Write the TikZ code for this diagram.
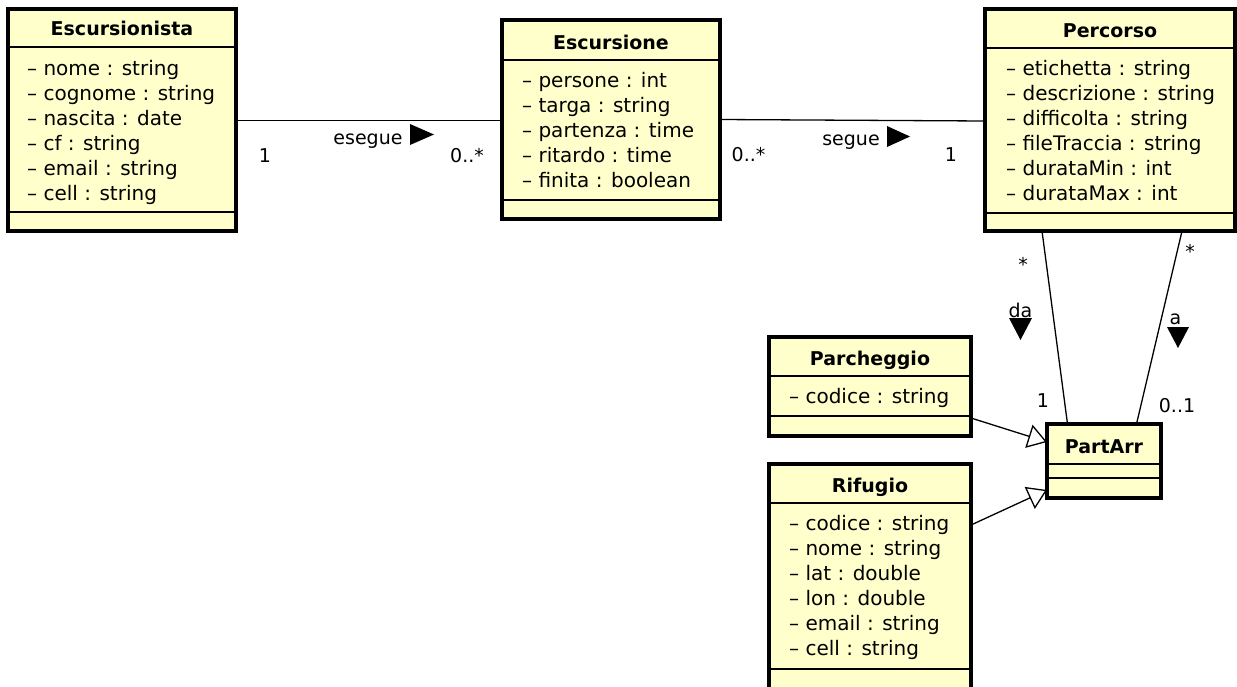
\documentclass[tikz,border=0pt]{standalone}
\usepackage{fontspec}
\setmainfont{DejaVu Sans}
\usetikzlibrary{arrows.meta}
\definecolor{classfill}{HTML}{FFFFCC}
\tikzset{
  classbox/.style={draw=black, fill=classfill, line width=3.2pt, inner sep=0pt, outer sep=0pt},
  sepline/.style={line width=1.3pt},
  classtitle/.style={font=\bfseries\fontsize{19}{23}\selectfont, inner sep=0pt, anchor=base},
  attr/.style={font=\fontsize{20}{25}\selectfont, inner sep=0pt, anchor=base west},
  mult/.style={font=\fontsize{19}{23}\selectfont, inner sep=0pt, anchor=base},
  assoc/.style={line width=1.3pt},
  navtri/.style={fill=black, draw=none},
  generalization/.style={line width=1.3pt, -{Triangle[open, length=19pt, width=24pt, fill=white, line width=1.3pt]}},
}
\begin{document}
\begin{tikzpicture}[x=1pt, y=-1pt]
  \useasboundingbox (0,0) rectangle (1237,686);
  \fill[white] (0,0) rectangle (1237,686);
  \clip (0,0) rectangle (1237,686);

  % ---------- Escursionista ----------
  \node[classbox, minimum width=228pt, minimum height=222pt] (escursionista) at (122,120) {};
  \draw[sepline] (escursionista.west |- 0,47) -- (escursionista.east |- 0,47);
  \draw[sepline] (escursionista.west |- 0,212) -- (escursionista.east |- 0,212);
  \node[classtitle] (escursionista-title) at (122,35) {Escursionista};
  \foreach \t [count=\i] in {– nome : string, – cognome : string, – nascita : date, – cf : string, – email : string, – cell : string}
    \node[attr] (escursionista-attr-\i) at (27, 75.5+24.9*\i-24.9) {\t};

  % ---------- Escursione ----------
  \node[classbox, minimum width=218pt, minimum height=199pt] (escursione) at (611,119.5) {};
  \draw[sepline] (escursione.west |- 0,60) -- (escursione.east |- 0,60);
  \draw[sepline] (escursione.west |- 0,200) -- (escursione.east |- 0,200);
  \node[classtitle] (escursione-title) at (611,49) {Escursione};
  \foreach \t [count=\i] in {– persone : int, – targa : string, – partenza : time, – ritardo : time, – finita : boolean}
    \node[attr] (escursione-attr-\i) at (522, 87.5+25*\i-25) {\t};

  % ---------- Percorso ----------
  \node[classbox, minimum width=250pt, minimum height=222pt] (percorso) at (1110,120) {};
  \draw[sepline] (percorso.west |- 0,48) -- (percorso.east |- 0,48);
  \draw[sepline] (percorso.west |- 0,213) -- (percorso.east |- 0,213);
  \node[classtitle] (percorso-title) at (1110,37) {Percorso};
  \foreach \t [count=\i] in {– etichetta : string, – descrizione : string, – difficolta : string, – fileTraccia : string, – durataMin : int, – durataMax : int}
    \node[attr] (percorso-attr-\i) at (1006, 75.5+25*\i-25) {\t};

  % ---------- Parcheggio ----------
  \node[classbox, minimum width=202pt, minimum height=99pt] (parcheggio) at (870,386.5) {};
  \draw[sepline] (parcheggio.west |- 0,376) -- (parcheggio.east |- 0,376);
  \draw[sepline] (parcheggio.west |- 0,416) -- (parcheggio.east |- 0,416);
  \node[classtitle] (parcheggio-title) at (870,365) {Parcheggio};
  \node[attr] (parcheggio-attr-1) at (789,403.5) {– codice : string};

  % ---------- Rifugio ----------
  \node[classbox, minimum width=202pt, minimum height=236pt] (rifugio) at (870,582) {};
  \draw[sepline] (rifugio.west |- 0,503) -- (rifugio.east |- 0,503);
  \draw[sepline] (rifugio.west |- 0,669) -- (rifugio.east |- 0,669);
  \node[classtitle] (rifugio-title) at (870,492) {Rifugio};
  \foreach \t [count=\i] in {– codice : string, – nome : string, – lat : double, – lon : double, – email : string, – cell : string}
    \node[attr] (rifugio-attr-\i) at (789, 530.5+25*\i-25) {\t};

  % ---------- PartArr ----------
  \node[classbox, minimum width=114pt, minimum height=74pt] (partarr) at (1104,461) {};
  \draw[sepline] (partarr.west |- 0,464) -- (partarr.east |- 0,464);
  \draw[sepline] (partarr.west |- 0,478) -- (partarr.east |- 0,478);
  \node[classtitle] (partarr-title) at (1104,453) {PartArr};

  % ---------- associations ----------
  \draw[assoc] (escursionista.east |- 0,120.5) -- (escursione.west |- 0,120.5);
  \node[mult] (esegue-m1) at (265,162) {1};
  \node[mult] (esegue-name) at (368,144) {esegue};
  \fill[navtri] (410,124) -- (410,145) -- (434,134.5) -- cycle;
  \node[mult] (esegue-m2) at (467,162) {0..*};

  \draw[assoc] (escursione.east |- 0,119.5) -- (percorso.west |- 0,121);
  \node[mult] (segue-m1) at (748.5,161) {0..*};
  \node[mult] (segue-name) at (851,145) {segue};
  \fill[navtri] (887,126) -- (887,147) -- (910,136.5) -- cycle;
  \node[mult] (segue-m2) at (951,161) {1};

  \draw[assoc] (percorso.south -| 1042,0) -- (partarr.north -| 1067.5,0);
  \node[mult] (da-m1) at (1023,271) {*};
  \node[mult] (da-name) at (1020.5,317) {da};
  \fill[navtri] (1009,318) -- (1032,318) -- (1020.5,340) -- cycle;
  \node[mult] (da-m2) at (1043,407) {1};

  \draw[assoc] (percorso.south -| 1182,0) -- (partarr.north -| 1136.5,0);
  \node[mult] (a-m1) at (1190,258) {*};
  \node[mult] (a-name) at (1175.5,324) {a};
  \fill[navtri] (1167,327) -- (1189,327) -- (1178,348) -- cycle;
  \node[mult] (a-m2) at (1177,412) {0..1};

  % ---------- generalizations ----------
  \draw[generalization] (parcheggio.east |- 0,418) -- (partarr.west |- 0,442);
  \draw[generalization] (rifugio.east |- 0,525) -- (partarr.west |- 0,490);
\end{tikzpicture}
\end{document}
